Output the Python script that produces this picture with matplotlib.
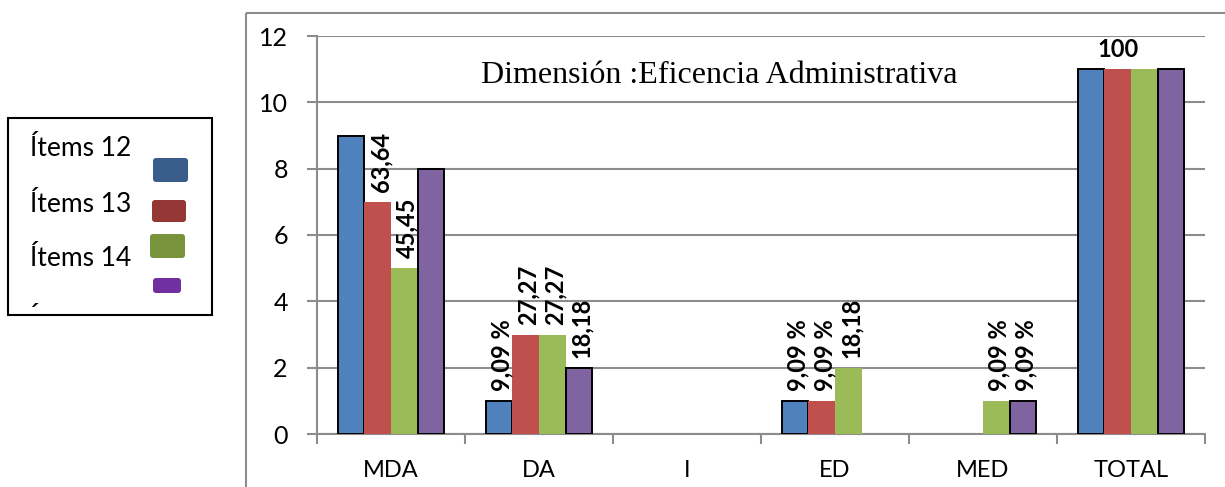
import numpy as np
import matplotlib
matplotlib.use("Agg")
import matplotlib.pyplot as plt
from matplotlib.patches import Rectangle, FancyBboxPatch

# categories and series
CATS = ["MDA", "DA", "I", "ED", "MED", "TOTAL"]
SERIES = ["Ítems 12", "Ítems 13", "Ítems 14", "Ítems 15"]
ITEMS12 = [9, 1, 0, 1, 0, 11]
ITEMS13 = [7, 3, 0, 1, 0, 11]
ITEMS14 = [5, 3, 0, 2, 1, 11]
ITEMS15 = [8, 2, 0, 0, 1, 11]

# percentage labels shown above bars (None = not shown)
LAB12 = [None, "9,09 %", None, "9,09 %", None, None]
LAB13 = ["63,64", "27,27", None, "9,09 %", None, "100"]
LAB14 = ["45,45", "27,27", None, "18,18", "9,09 %", None]
LAB15 = [None, "18,18", None, None, "9,09 %", None]

YTICKS = [0, 2, 4, 6, 8, 10, 12]
TITLE = "Dimensión :Eficencia Administrativa"

COLORS = ["#4F81BD", "#C0504D", "#9BBB59", "#8064A2"]
LEG_COLORS = ["#385D8A", "#953735", "#77933C", "#7030A0"]
EDGES = [True, False, False, True]
GRID = "#8C8C8C"

W, H = 1225, 487
fig = plt.figure(figsize=(W / 100, H / 100), dpi=100)
ax = fig.add_axes([317 / W, 1 - 434 / H, (1205 - 317) / W, (434 - 36) / H])

x = np.arange(len(CATS))
bw = 0.18
values = [ITEMS12, ITEMS13, ITEMS14, ITEMS15]
labels = [LAB12, LAB13, LAB14, LAB15]
for i, (vals, labs) in enumerate(zip(values, labels)):
    pos = x + (i - 1.5) * bw
    if EDGES[i]:
        lw = [1.4 if v else 0 for v in vals]
        bars = ax.bar(pos, vals, bw, color=COLORS[i], edgecolor="black",
                      linewidth=lw, zorder=3)
    else:
        bars = ax.bar(pos, vals, bw, color=COLORS[i], linewidth=0, zorder=3)
    for b, v, t in zip(bars, vals, labs):
        if t is None:
            continue
        cx = b.get_x() + b.get_width() / 2
        if t == "100":
            ax.annotate(t, (cx, v), xytext=(0, 6), textcoords="offset points",
                        ha="center", va="bottom", fontsize=17,
                        fontweight="bold", family="Lato", zorder=5)
        else:
            ax.annotate(t, (cx, v), xytext=(2, 7), textcoords="offset points",
                        ha="center", va="bottom", rotation=90, fontsize=17,
                        fontweight="bold", family="Lato", zorder=5)

ax.set_xlim(-0.5, len(CATS) - 0.5)
ax.set_ylim(0, 12)
ax.set_yticks(YTICKS)
ax.set_yticklabels([str(t) for t in YTICKS], family="Lato", fontsize=18)
ax.yaxis.grid(True, color=GRID, linewidth=1.5, zorder=0)
ax.set_axisbelow(True)
ax.set_xticks(x)
ax.set_xticklabels(CATS, family="Lato", fontsize=17)
ax.set_xticks(np.arange(len(CATS) + 1) - 0.5, minor=True)
ax.tick_params(axis="x", which="major", length=0, pad=19)
ax.tick_params(axis="x", which="minor", length=7, width=1.5, color=GRID)
ax.tick_params(axis="y", length=7, width=1.5, color=GRID, pad=14)
for s in ["top", "right"]:
    ax.spines[s].set_visible(False)
for s in ["left", "bottom"]:
    ax.spines[s].set_color(GRID)
    ax.spines[s].set_linewidth(1.5)

ax.text(2.22, 10.8, TITLE, family="Liberation Serif", fontsize=23,
        ha="center", va="center", zorder=6)

# overlay in pixel coords: chart frame and the hand-drawn legend
ov = fig.add_axes([0, 0, 1, 1], zorder=-1)
ov.set_xlim(0, W)
ov.set_ylim(H, 0)
ov.axis("off")
ov.add_patch(Rectangle((246, 13), 1200, 600, fill=False, edgecolor=GRID,
                       linewidth=1.5))
ov.add_patch(Rectangle((8, 118), 204, 197, fill=False, edgecolor="black",
                       linewidth=1.5))

text_y = [148, 205, 258, 320]
patches = [(153, 158, 35, 24), (152, 200, 34, 22), (150, 234, 35, 24),
           (153, 278, 28, 15)]
clip = Rectangle((8, 118), 204, 189, transform=ov.transData)
for name, ty, (px, py, pw, ph), c in zip(SERIES, text_y, patches, LEG_COLORS):
    t = ov.text(30, ty, name, family="Lato", fontsize=19, ha="left",
                va="center")
    t.set_clip_path(clip)
    t.set_clip_on(True)
    ov.add_patch(FancyBboxPatch((px, py), pw, ph,
                                boxstyle="round,pad=0,rounding_size=3",
                                facecolor=c, edgecolor="none"))

fig.savefig("out.png", dpi=100)
